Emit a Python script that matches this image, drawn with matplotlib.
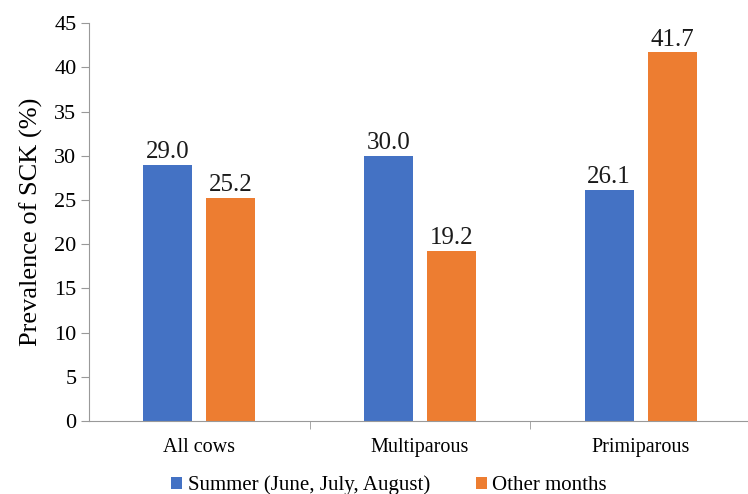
import numpy as np
import matplotlib.pyplot as plt

groups = ['All cows', 'Multiparous', 'Primiparous']
series_names = ['Summer (June, July, August)', 'Other months']
summer = [29.0, 30.0, 26.1]
other = [25.2, 19.2, 41.7]
colors = ['#4472C4', '#ED7D31']


def main():
    plt.rcParams['font.family'] = ['Liberation Serif', 'DejaVu Serif']
    fig = plt.figure(figsize=(7.48, 4.94), dpi=100)
    ax = fig.add_axes([0.119, 0.148, 0.885, 0.805])

    x = np.arange(len(groups))
    width = 0.222
    offset = 0.1425
    for vals, name, c, dx in zip([summer, other], series_names, colors, [-offset, offset]):
        bars = ax.bar(x + dx, vals, width, color=c, label=name)
        for b, v in zip(bars, vals):
            ax.text(b.get_x() + b.get_width() / 2, v + 0.2, f'{v:.1f}',
                    ha='center', va='bottom', fontsize=18, color='#1a1a1a')

    ax.set_xlim(-0.5, 2.5)
    ax.set_ylim(0, 45)
    ax.set_yticks(range(0, 46, 5))
    ax.set_xticks(x)
    ax.set_xticklabels(groups)
    ax.set_xticks([0.5, 1.5], minor=True)
    ax.tick_params(axis='x', which='major', length=0, pad=12, labelsize=14.5)
    ax.tick_params(axis='x', which='minor', length=6, color='#999999', direction='out')
    ax.tick_params(axis='y', length=6, color='#999999', labelsize=16, pad=3)
    for s in ['top', 'right']:
        ax.spines[s].set_visible(False)
    for s in ['left', 'bottom']:
        ax.spines[s].set_color('#999999')
    ax.set_ylabel('Prevalence of SCK (%)', fontsize=19, labelpad=8)

    ax.legend(loc='upper center', bbox_to_anchor=(0.453, -0.09), ncol=2, frameon=False,
              fontsize=15, handlelength=0.55, handleheight=0.55, handletextpad=0.25,
              columnspacing=2.2)

    fig.savefig('out.png')


if __name__ == '__main__':
    main()
